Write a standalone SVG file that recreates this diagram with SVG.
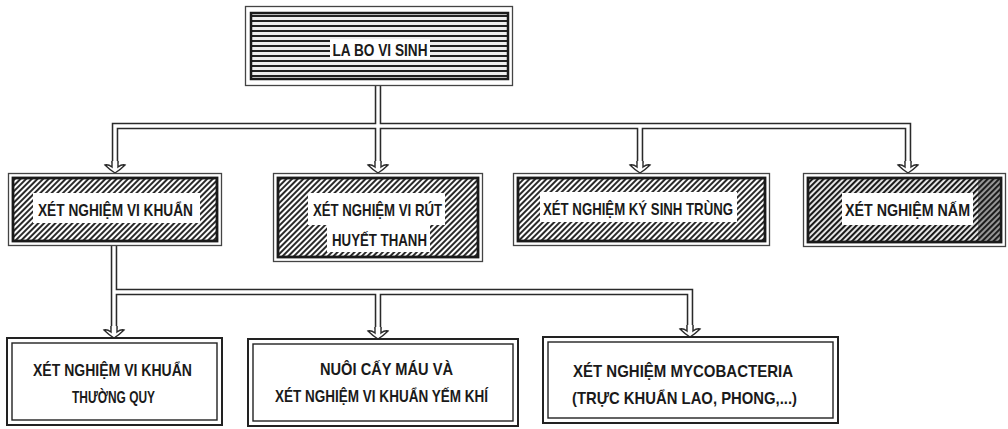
<svg xmlns="http://www.w3.org/2000/svg" xmlns:xlink="http://www.w3.org/1999/xlink" width="1008" height="429" viewBox="0 0 1008 429">
<style>
.lbl{font-family:"Liberation Sans",Arial,sans-serif;font-weight:bold;font-size:17px;fill:#1a1a1a;text-anchor:middle}
.outer{fill:#fff;stroke:#444;stroke-width:1.3}
.inner{fill:url(#hatch);stroke:#1a1a1a;stroke-width:2.8}
.bg{fill:#fff}
.bo{fill:#fff;stroke:#222;stroke-width:2}
.bi{fill:none;stroke:#222;stroke-width:1.4}
.pipeD{fill:none;stroke:#2a2a2a;stroke-width:6.5;stroke-linejoin:miter}
.pipeW{fill:none;stroke:#fff;stroke-width:3.4;stroke-linejoin:miter}
.ahF{fill:#fff;stroke:none}
.ahS{fill:none;stroke:#2a2a2a;stroke-width:1.4}
</style>
<defs>
<pattern id="hatch" width="4" height="4" patternUnits="userSpaceOnUse" patternTransform="rotate(45)">
<rect width="4" height="4" fill="#fff"/>
<line x1="1" y1="0" x2="1" y2="4" stroke="#2a2a2a" stroke-width="2"/>
</pattern>
<pattern id="hatchD" width="4" height="4" patternUnits="userSpaceOnUse" patternTransform="rotate(45)">
<rect width="4" height="4" fill="#eee"/>
<line x1="1" y1="0" x2="1" y2="4" stroke="#1a1a1a" stroke-width="2.2"/>
</pattern>
<pattern id="stripes" width="6" height="5" patternUnits="userSpaceOnUse">
<rect width="6" height="5" fill="#eee"/>
<rect y="0" width="6" height="2" fill="#222"/>
</pattern>
<g id="ah">
<path class="ahF" d="M-3,-12 L-3,-6 Q-7,-9 -10,-8 Q-5,-3 0,0 Q5,-3 10,-8 Q7,-9 3,-6 L3,-12 Z"/>
<path class="ahS" d="M-3,-12 L-3,-6 Q-7,-9 -10,-8 Q-5,-3 0,0 Q5,-3 10,-8 Q7,-9 3,-6 L3,-12"/>
</g>
</defs>
<rect width="1008" height="429" fill="#fff"/>

<g id="connectors">
<path class="pipeD" d="M378,86 V126 M115,163 V126 H908 V163 M378,126 V163 M640,126 V163 M114,246 V329 M114,292 H690 V329 M378,292 V329"/>
<path class="pipeW" d="M378,86 V126 M115,163 V126 H908 V163 M378,126 V163 M640,126 V163 M114,246 V329 M114,292 H690 V329 M378,292 V329"/>
<use xlink:href="#ah" x="115" y="173"/>
<use xlink:href="#ah" x="378" y="173"/>
<use xlink:href="#ah" x="640" y="173"/>
<use xlink:href="#ah" x="908" y="173"/>
<use xlink:href="#ah" x="114" y="338"/>
<use xlink:href="#ah" x="378" y="339"/>
<use xlink:href="#ah" x="690" y="337"/>
</g>

<g id="labo">
<rect class="outer" x="245.5" y="6.5" width="267" height="79"/>
<rect x="251" y="13" width="257" height="66" fill="url(#stripes)" stroke="#1a1a1a" stroke-width="2.5"/>
<rect class="bg" x="330" y="39" width="100" height="20"/>
<text class="lbl" x="380" y="56" textLength="95" lengthAdjust="spacingAndGlyphs">LA BO VI SINH</text>
</g>

<g id="vikhuan">
<rect class="outer" x="8.5" y="173.5" width="213" height="72"/>
<rect class="inner" x="13" y="178" width="204" height="63"/>
<rect class="bg" x="33" y="193" width="167" height="30"/>
<text class="lbl" x="115.5" y="216" textLength="155" lengthAdjust="spacingAndGlyphs">XÉT NGHIỆM VI KHUẨN</text>
</g>

<g id="virut">
<rect class="outer" x="273.5" y="173.5" width="209" height="88"/>
<rect class="inner" x="278" y="178" width="200" height="79"/>
<rect class="bg" x="308" y="193" width="137" height="32"/>
<rect class="bg" x="327" y="225" width="103" height="27"/>
<text class="lbl" x="377.5" y="216" textLength="129" lengthAdjust="spacingAndGlyphs">XÉT NGHIỆM VI RÚT</text>
<text class="lbl" x="379.5" y="246" textLength="95" lengthAdjust="spacingAndGlyphs">HUYẾT THANH</text>
</g>

<g id="kysinhtrung">
<rect class="outer" x="513.5" y="173.5" width="256" height="72"/>
<rect class="inner" x="518" y="178" width="247" height="63"/>
<rect class="bg" x="540" y="192" width="197" height="30"/>
<text class="lbl" x="638" y="215" textLength="190" lengthAdjust="spacingAndGlyphs">XÉT NGHIỆM KÝ SINH TRÙNG</text>
</g>

<g id="nam">
<rect class="outer" x="803.5" y="173.5" width="202" height="73"/>
<rect x="808" y="178" width="193" height="64" fill="url(#hatchD)" stroke="#1a1a1a" stroke-width="2.8"/>
<rect x="978" y="179.5" width="21.5" height="61" fill="#222" opacity="0.4"/>
<rect class="bg" x="842" y="193" width="131" height="32"/>
<text class="lbl" x="907.5" y="216" textLength="125" lengthAdjust="spacingAndGlyphs">XÉT NGHIỆM NẤM</text>
</g>

<g id="thuongquy">
<rect class="bo" x="7" y="338" width="215" height="87"/>
<rect class="bi" x="12" y="343" width="205" height="77"/>
<text class="lbl" x="112.5" y="376" textLength="159" lengthAdjust="spacingAndGlyphs">XÉT NGHIỆM VI KHUẨN</text>
<text class="lbl" x="113.5" y="403" textLength="83" lengthAdjust="spacingAndGlyphs">THƯỜNG QUY</text>
</g>

<g id="nuoicaymau">
<rect class="bo" x="248" y="339" width="270" height="87"/>
<rect class="bi" x="253" y="344" width="260" height="77"/>
<text class="lbl" x="386.5" y="375" textLength="133" lengthAdjust="spacingAndGlyphs">NUÔI CẤY MÁU VÀ</text>
<text class="lbl" x="381.5" y="402" textLength="213" lengthAdjust="spacingAndGlyphs">XÉT NGHIỆM VI KHUẨN YẾM KHÍ</text>
</g>

<g id="mycobacteria">
<rect class="bo" x="543" y="337" width="295" height="86"/>
<rect class="bi" x="548" y="342" width="285" height="76"/>
<text class="lbl" x="683" y="377" textLength="220" lengthAdjust="spacingAndGlyphs">XÉT NGHIỆM MYCOBACTERIA</text>
<text class="lbl" x="684.5" y="404" textLength="225" lengthAdjust="spacingAndGlyphs">(TRỰC KHUẨN LAO, PHONG,...)</text>
</g>
</svg>
